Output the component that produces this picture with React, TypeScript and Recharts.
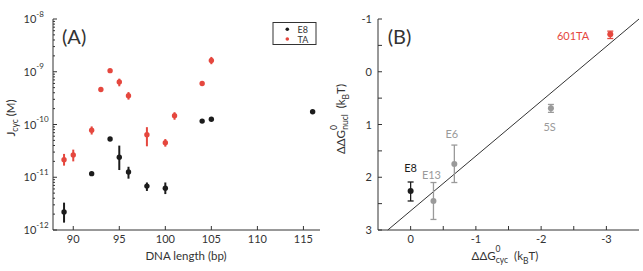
import React from 'react';
import { ScatterChart, Scatter, XAxis, YAxis, ErrorBar, ReferenceLine, Customized } from 'recharts';

// (A) cyclization J factor vs DNA length
const e8Length = [89, 92, 94, 95, 96, 98, 100, 104, 105, 116];
const e8J = [2.2e-12, 1.17e-11, 5.3e-11, 2.4e-11, 1.26e-11, 6.8e-12, 6.2e-12, 1.16e-10, 1.26e-10, 1.75e-10];
const e8JLow = [1.38e-12, 1.08e-11, 4.9e-11, 1.37e-11, 9.4e-12, 5.5e-12, 4.8e-12, 1.1e-10, 1.2e-10, 1.66e-10];
const e8JHigh = [3.3e-12, 1.27e-11, 5.7e-11, 3.98e-11, 1.58e-11, 7.96e-12, 7.96e-12, 1.22e-10, 1.32e-10, 1.84e-10];

const taLength = [89, 90, 92, 93, 94, 95, 96, 98, 100, 101, 104, 105];
const taJ = [2.15e-11, 2.65e-11, 7.8e-11, 4.6e-10, 1.05e-9, 6.4e-10, 3.5e-10, 6.4e-11, 4.5e-11, 1.47e-10, 6.0e-10, 1.63e-9];
const taJLow = [1.66e-11, 2.0e-11, 6.45e-11, 4.3e-10, 1.0e-9, 5.3e-10, 2.96e-10, 3.86e-11, 3.8e-11, 1.23e-10, 5.6e-10, 1.39e-9];
const taJHigh = [2.77e-11, 3.34e-11, 9.2e-11, 4.9e-10, 1.1e-9, 7.4e-10, 4.12e-10, 8.9e-11, 5.3e-11, 1.71e-10, 6.4e-10, 1.91e-9];

const lengthTicks = [90, 95, 100, 105, 110, 115];
const jDecades = [1e-12, 1e-11, 1e-10, 1e-9, 1e-8];

// (B) nucleosome vs cyclization free energies
const seqNames = ['E8', 'E13', 'E6', '5S', '601TA'];
const seqGroup = ['E8', 'other', 'other', 'other', 'TA'];
const ddgCyc = [0, -0.35, -0.67, -2.15, -3.06];
const ddgNucl = [2.26, 2.45, 1.75, 0.69, -0.71];
const ddgNuclLow = [2.09, 2.1, 1.39, 0.62, -0.77];
const ddgNuclHigh = [2.45, 2.8, 2.1, 0.77, -0.63];

const cycTicks = [0, -0.5, -1, -1.5, -2, -2.5, -3];
const nuclTicks = [-1, -0.5, 0, 0.5, 1, 1.5, 2, 2.5, 3];
const fitLine = [{ x: 0.35, y: 3 }, { x: -3.5, y: -1 }];

const FONT = 'Lato, "DejaVu Sans", sans-serif';
const TEXT = '#333';
const AXIS = '#333';
const BLACK = '#1c1c1c';
const RED = '#e5473e';
const GRAY = '#9a9a9a';

const jMinor = jDecades.slice(0, -1).flatMap((d) => [2, 3, 4, 5, 6, 7, 8, 9].map((m) => m * d));
const jTicks = [...jDecades, ...jMinor].sort((a, b) => a - b);

const isDecade = (v: number) => Math.abs(Math.log10(v) - Math.round(Math.log10(v))) < 1e-6;
const isInt = (v: number) => Math.abs(v - Math.round(v)) < 1e-6;

const e8Rows = e8Length.map((len, i) => ({ len, j: e8J[i], err: [e8J[i] - e8JLow[i], e8JHigh[i] - e8J[i]] }));
const taRows = taLength.map((len, i) => ({ len, j: taJ[i], err: [taJ[i] - taJLow[i], taJHigh[i] - taJ[i]] }));

const seqRows = seqNames.map((name, i) => ({
  name,
  group: seqGroup[i],
  cyc: ddgCyc[i],
  nucl: ddgNucl[i],
  err: [ddgNucl[i] - ddgNuclLow[i], ddgNuclHigh[i] - ddgNucl[i]],
}));

// tick marks point inwards, like the matlab box
const BottomTick = ({ x, y, payload, labelled }: any) => (
  <g>
    <line x1={x} y1={y} x2={x} y2={y - 4} stroke={AXIS} />
    {labelled(payload.value) && (
      <text x={x} y={y + 12.5} textAnchor="middle" fontSize={11} fontFamily={FONT} fill={TEXT}>
        {String(payload.value)}
      </text>
    )}
  </g>
);
const TopTick = ({ x, y }: any) => <line x1={x} y1={y} x2={x} y2={y + 4} stroke={AXIS} />;
const RightTick = ({ x, y, payload, minor }: any) => (
  <line x1={x} y1={y} x2={x - (minor && minor(payload.value) ? 2 : 4)} y2={y} stroke={AXIS} />
);

const JTick = ({ x, y, payload }: any) => {
  const v = payload.value;
  const major = isDecade(v);
  return (
    <g>
      <line x1={x} y1={y} x2={x + (major ? 4 : 2)} y2={y} stroke={AXIS} />
      {major && (
        <text x={x - 29.5} y={y + 4} fontSize={11} fontFamily={FONT} fill={TEXT}>
          10
          <tspan dy={-6.5} fontSize={8}>
            {String(Math.round(Math.log10(v)))}
          </tspan>
        </text>
      )}
    </g>
  );
};

const NuclTick = ({ x, y, payload }: any) => (
  <g>
    <line x1={x} y1={y} x2={x + 4} y2={y} stroke={AXIS} />
    {isInt(payload.value) && (
      <text x={x - 6} y={y + 4} textAnchor="end" fontSize={11} fontFamily={FONT} fill={TEXT}>
        {String(payload.value)}
      </text>
    )}
  </g>
);

const Dot = (r: number, color: string) => (props: any) => <circle cx={props.cx} cy={props.cy} r={r} fill={color} />;

const labelPlace: Record<string, { dx: number; dy: number; anchor: string }> = {
  E8: { dx: 0, dy: -18.6, anchor: 'middle' },
  E13: { dx: -2, dy: -21.7, anchor: 'middle' },
  E6: { dx: -2.5, dy: -26, anchor: 'middle' },
  '5S': { dx: -1.3, dy: 23, anchor: 'middle' },
  '601TA': { dx: -21, dy: 5.7, anchor: 'end' },
};

const SeqDot = (color: string) => (props: any) => {
  const p = labelPlace[props.payload.name];
  return (
    <g>
      <circle cx={props.cx} cy={props.cy} r={3} fill={color} />
      <text x={props.cx + p.dx} y={props.cy + p.dy} textAnchor={p.anchor} fontSize={11} fontFamily={FONT} fill={color}>
        {props.payload.name}
      </text>
    </g>
  );
};

const PanelAText = () => (
  <g fontFamily={FONT} fill={TEXT}>
    <text x={62} y={43.5} fontSize={20}>(A)</text>
    <rect x={273} y={22.5} width={43} height={22} fill="#fff" stroke={AXIS} />
    <circle cx={287.3} cy={29.3} r={1.8} fill={BLACK} />
    <circle cx={287.3} cy={39} r={1.8} fill={RED} />
    <text x={297.5} y={32.6} fontSize={9}>E8</text>
    <text x={297.5} y={42.6} fontSize={9}>TA</text>
    <text x={186} y={260} fontSize={11.5} textAnchor="middle">DNA length (bp)</text>
    <text transform="translate(14.5,118) rotate(-90)" fontSize={11.5} textAnchor="middle">
      J<tspan dy={3.5} fontSize={8.5}>cyc</tspan>
      <tspan dy={-3.5}> (M)</tspan>
    </text>
  </g>
);

// chart B svg starts 10px left of the panel so the rotated label fits
const PanelBText = () => (
  <g fontFamily={FONT} fill={TEXT}>
    <text x={67.7} y={43.5} fontSize={20}>(B)</text>
    <text x={185} y={260} fontSize={11.5} textAnchor="middle">
      ΔΔG<tspan dy={-8} fontSize={8.5}>0</tspan>
      <tspan dx={-4.8} dy={11} fontSize={8.5}>cyc</tspan>
      <tspan dx={6} dy={-3}>(k</tspan>
      <tspan dy={4} fontSize={8.5}>B</tspan>
      <tspan dy={-4}>T)</tspan>
    </text>
    <text transform="translate(24.5,119) rotate(-90)" fontSize={11.5} textAnchor="middle">
      ΔΔG<tspan dy={-7.5} fontSize={8.5}>0</tspan>
      <tspan dx={-4.8} dy={10.5} fontSize={8.5}>nucl</tspan>
      <tspan dx={6} dy={-3}>(k</tspan>
      <tspan dy={4} fontSize={8.5}>B</tspan>
      <tspan dy={-4}>T)</tspan>
    </text>
  </g>
);

export default function App() {
  return (
    <div style={{ position: 'absolute', left: 0, top: 0, width: 643, height: 271, background: '#fff' }}>
      <div style={{ position: 'absolute', left: 0, top: 0 }}>
        <ScatterChart width={320} height={271} margin={{ top: 19, right: 0, bottom: 0, left: 0 }}>
          <XAxis
            xAxisId="b"
            dataKey="len"
            type="number"
            domain={[87.8, 116.8]}
            allowDataOverflow
            ticks={lengthTicks}
            interval={0}
            height={41}
            tickSize={0}
            tickMargin={0}
            tickLine={false}
            axisLine={{ stroke: AXIS }}
            tick={<BottomTick labelled={() => true} />}
          />
          <XAxis
            xAxisId="t"
            orientation="top"
            type="number"
            domain={[87.8, 116.8]}
            allowDataOverflow
            ticks={lengthTicks}
            interval={0}
            height={0}
            tickSize={0}
            tickMargin={0}
            tickLine={false}
            axisLine={{ stroke: AXIS }}
            tick={<TopTick />}
          />
          <YAxis
            yAxisId="l"
            dataKey="j"
            type="number"
            scale="log"
            domain={[1e-12, 1e-8]}
            allowDataOverflow
            ticks={jTicks}
            interval={0}
            width={53}
            tickSize={0}
            tickMargin={0}
            tickLine={false}
            axisLine={{ stroke: AXIS }}
            tick={<JTick />}
          />
          <YAxis
            yAxisId="r"
            orientation="right"
            type="number"
            scale="log"
            domain={[1e-12, 1e-8]}
            allowDataOverflow
            ticks={jTicks}
            interval={0}
            width={0}
            tickSize={0}
            tickMargin={0}
            tickLine={false}
            axisLine={{ stroke: AXIS }}
            tick={<RightTick minor={(v: number) => !isDecade(v)} />}
          />
          <Scatter xAxisId="b" yAxisId="l" data={e8Rows} shape={Dot(2.7, BLACK)} isAnimationActive={false}>
            <ErrorBar dataKey="err" direction="y" width={0} stroke={BLACK} strokeWidth={2} isAnimationActive={false} />
          </Scatter>
          <Scatter xAxisId="b" yAxisId="l" data={taRows} shape={Dot(2.7, RED)} isAnimationActive={false}>
            <ErrorBar dataKey="err" direction="y" width={0} stroke={RED} strokeWidth={2} isAnimationActive={false} />
          </Scatter>
          <Customized component={PanelAText} />
        </ScatterChart>
      </div>
      <div style={{ position: 'absolute', left: 320, top: 0 }}>
        <ScatterChart width={323} height={271} margin={{ top: 19, right: 4, bottom: 0, left: 10 }}>
          <XAxis
            xAxisId="b"
            dataKey="cyc"
            type="number"
            domain={[-3.5, 0.5]}
            reversed
            allowDataOverflow
            ticks={cycTicks}
            interval={0}
            height={41}
            tickSize={0}
            tickMargin={0}
            tickLine={false}
            axisLine={{ stroke: AXIS }}
            tick={<BottomTick labelled={isInt} />}
          />
          <XAxis
            xAxisId="t"
            orientation="top"
            type="number"
            domain={[-3.5, 0.5]}
            reversed
            allowDataOverflow
            ticks={cycTicks}
            interval={0}
            height={0}
            tickSize={0}
            tickMargin={0}
            tickLine={false}
            axisLine={{ stroke: AXIS }}
            tick={<TopTick />}
          />
          <YAxis
            yAxisId="l"
            dataKey="nucl"
            type="number"
            domain={[-1, 3]}
            reversed
            allowDataOverflow
            ticks={nuclTicks}
            interval={0}
            width={48}
            tickSize={0}
            tickMargin={0}
            tickLine={false}
            axisLine={{ stroke: AXIS }}
            tick={<NuclTick />}
          />
          <YAxis
            yAxisId="r"
            orientation="right"
            type="number"
            domain={[-1, 3]}
            reversed
            allowDataOverflow
            ticks={nuclTicks}
            interval={0}
            width={0}
            tickSize={0}
            tickMargin={0}
            tickLine={false}
            axisLine={{ stroke: AXIS }}
            tick={<RightTick />}
          />
          <ReferenceLine xAxisId="b" yAxisId="l" segment={fitLine} stroke={AXIS} strokeWidth={1} ifOverflow="visible" />
          <Scatter xAxisId="b" yAxisId="l" data={seqRows.filter((r) => r.group === 'other')} shape={SeqDot(GRAY)} isAnimationActive={false}>
            <ErrorBar dataKey="err" direction="y" width={3} stroke={GRAY} strokeWidth={1.3} isAnimationActive={false} />
          </Scatter>
          <Scatter xAxisId="b" yAxisId="l" data={seqRows.filter((r) => r.group === 'E8')} shape={SeqDot(BLACK)} isAnimationActive={false}>
            <ErrorBar dataKey="err" direction="y" width={3} stroke={BLACK} strokeWidth={1.3} isAnimationActive={false} />
          </Scatter>
          <Scatter xAxisId="b" yAxisId="l" data={seqRows.filter((r) => r.group === 'TA')} shape={SeqDot(RED)} isAnimationActive={false}>
            <ErrorBar dataKey="err" direction="y" width={3} stroke={RED} strokeWidth={1.3} isAnimationActive={false} />
          </Scatter>
          <Customized component={PanelBText} />
        </ScatterChart>
      </div>
    </div>
  );
}
